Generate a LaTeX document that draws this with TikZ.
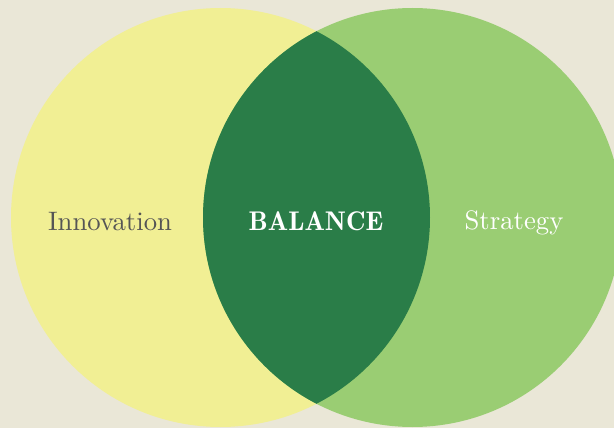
\documentclass[tikz,border=0pt]{standalone}
\usepackage{fontspec}
\newfontfamily\lmten{lmroman10-regular.otf}
\newfontfamily\lmdemi{lmromandemi10-regular.otf}
\definecolor{bgc}{HTML}{EAE7D7}
\definecolor{yel}{HTML}{F1EF94}
\definecolor{lgr}{HTML}{9ACD73}
\definecolor{dgr}{HTML}{2A7D48}
\definecolor{txg}{HTML}{555555}
\begin{document}
\begin{tikzpicture}[x=1pt,y=-1pt,
  lbl/.style={font=\lmten\fontsize{26.7}{32}\selectfont, inner sep=0pt, anchor=base}]
\fill[bgc] (0,0) rectangle (614,428);
\useasboundingbox (0,0) rectangle (614,428);
\coordinate (c1) at (220.5,217.5);
\coordinate (c2) at (412.5,217.5);
\fill[yel] (c1) circle[radius=209.5];
\fill[lgr] (c2) circle[radius=209.5];
\begin{scope}
\clip (c1) circle[radius=209.5];
\fill[dgr] (c2) circle[radius=209.5];
\end{scope}
\node[lbl, text=txg] (inn) at (110,230.5) {Innovation};
\node[lbl, text=white, font=\lmdemi\fontsize{27}{31}\selectfont] (bal) at (316,230.5) {BALANCE};
\node[lbl, text=white] (str) at (514,229.5) {Strategy};
\end{tikzpicture}
\end{document}
